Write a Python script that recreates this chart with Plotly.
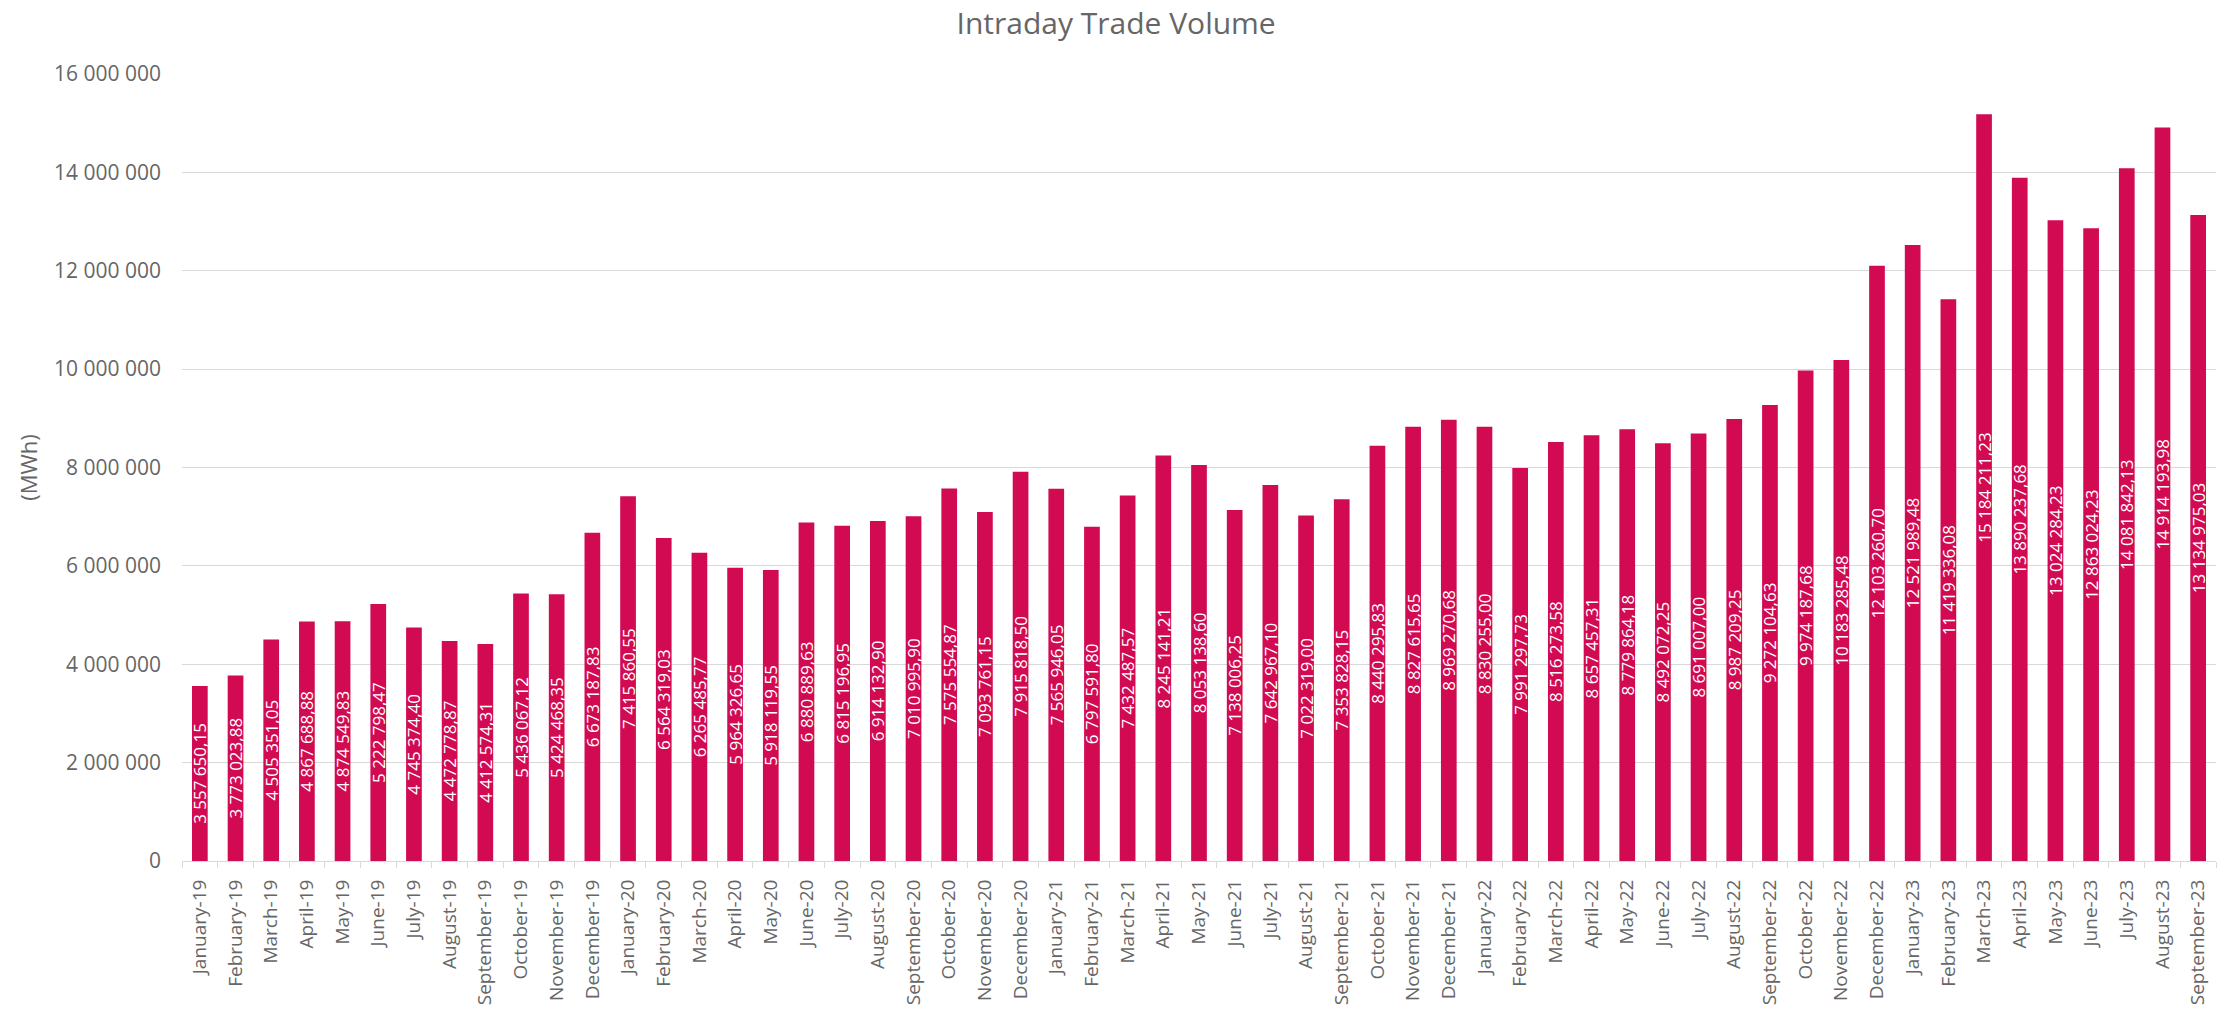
import plotly.graph_objects as go

months = ["January", "February", "March", "April", "May", "June", "July",
          "August", "September", "October", "November", "December"]
years = ["19", "20", "21", "22", "23"]
categories = [f"{m}-{y}" for y in years for m in months][:57]

volumes = [
    3557650.15, 3773023.88, 4505351.05, 4867688.88, 4874549.83, 5222798.47,
    4745374.40, 4472778.87, 4412574.31, 5436067.12, 5424468.35, 6673187.83,
    7415860.55, 6564319.03, 6265485.77, 5964326.65, 5918119.55, 6880889.63,
    6815196.95, 6914132.90, 7010995.90, 7575554.87, 7093761.15, 7915818.50,
    7565946.05, 6797591.80, 7432487.57, 8245141.21, 8053138.60, 7138006.25,
    7642967.10, 7022319.00, 7353828.15, 8440295.83, 8827615.65, 8969270.68,
    8830255.00, 7991297.73, 8516273.58, 8657457.31, 8779864.18, 8492072.25,
    8691007.00, 8987209.25, 9272104.63, 9974187.68, 10183285.48, 12103260.70,
    12521989.48, 11419336.08, 15184211.23, 13890237.68, 13024284.23, 12863024.23,
    14081842.13, 14914193.98, 13134975.03,
]

y_ticks = [0, 2000000, 4000000, 6000000, 8000000, 10000000, 12000000, 14000000, 16000000]

BAR = "#D20A52"
GREY = "#666666"
FONT = "Open Sans"

fig = go.Figure(go.Bar(
    x=categories,
    y=volumes,
    marker=dict(color=BAR, line=dict(width=0)),
    texttemplate="%{y:,.2f}",
    textposition="inside",
    insidetextanchor="middle",
    textangle=-90,
    textfont=dict(color="white", size=17, family=FONT),
    cliponaxis=False,
))

fig.update_layout(
    width=2218, height=1003,
    paper_bgcolor="white", plot_bgcolor="white",
    separators=", ",
    font=dict(family=FONT, color=GREY, size=19),
    title=dict(text="Intraday Trade Volume", x=0.4996, xref="container", xanchor="center",
               y=1 - 5 / 1003, yref="container", yanchor="top",
               font=dict(size=30, color=GREY, family=FONT)),
    margin=dict(l=174, r=10, t=66, b=150, pad=0),
    bargap=0.56,
    showlegend=False,
    uniformtext=dict(minsize=17, mode="show"),
)

fig.update_xaxes(
    type="category",
    automargin=False,
    tickangle=-90,
    showline=True, linecolor="#d9d9d9", linewidth=1,
    ticks="outside", tickson="boundaries", ticklen=6, tickcolor="#d9d9d9",
    tickfont=dict(size=19, color=GREY, family=FONT),
    ticklabelstandoff=10,
    showgrid=False,
)

fig.update_yaxes(
    range=[0, 16000000],
    automargin=False,
    tickvals=y_ticks,
    tickformat=",d",
    showgrid=True, gridcolor="#d9d9d9", gridwidth=1,
    zeroline=False, showline=False, ticks="",
    tickfont=dict(size=21, color=GREY, family=FONT),
    ticklabelstandoff=20,
    title=dict(text="(MWh)", standoff=10, font=dict(size=22, color=GREY, family=FONT)),
)

fig.write_html("out.html")
